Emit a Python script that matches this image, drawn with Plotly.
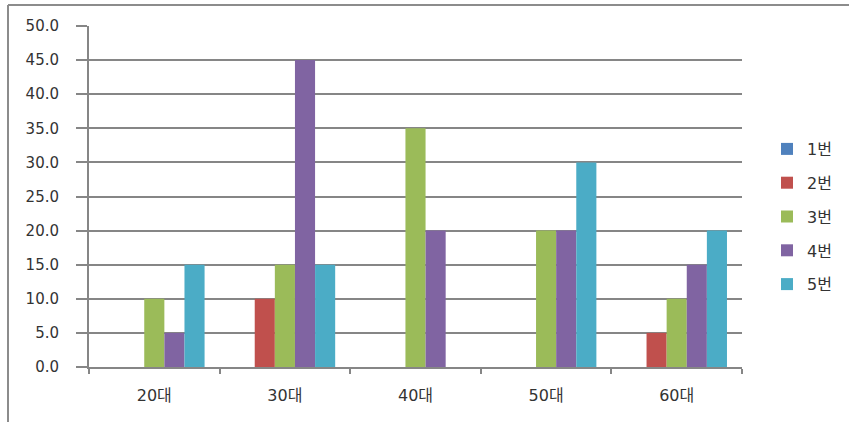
import plotly.graph_objects as go

categories = ["20대", "30대", "40대", "50대", "60대"]
series_names = ["1번", "2번", "3번", "4번", "5번"]
s1 = [0, 0, 0, 0, 0]
s2 = [0, 10, 0, 0, 5]
s3 = [10, 15, 35, 20, 10]
s4 = [5, 45, 20, 20, 15]
s5 = [15, 15, 0, 30, 20]
series_values = [s1, s2, s3, s4, s5]
colors = ["#4F81BD", "#C0504D", "#9BBB59", "#8064A2", "#4BACC6"]
y_ticks = [0, 5, 10, 15, 20, 25, 30, 35, 40, 45, 50]

W, H = 849, 422
L, R, T, B = 89, 107, 26, 55
pw, ph = W - L - R, H - T - B

fig = go.Figure()
for name, vals, col in zip(series_names, series_values, colors):
    fig.add_trace(go.Bar(x=categories, y=vals, name=name, marker_color=col,
                         marker_line_width=0, legendgroup=name))

FAM = "DejaVu Sans, Noto Sans CJK KR"
yfont = dict(family=FAM, size=15, color="#333333")
xfont = dict(family=FAM, size=16, color="#333333")

fig.update_layout(
    width=W, height=H,
    margin=dict(l=L, r=R, t=T, b=B, pad=0, autoexpand=False),
    paper_bgcolor="white", plot_bgcolor="white",
    barmode="group", bargap=0.23, bargroupgap=0,
    font=yfont,
    showlegend=True,
    legend=dict(x=(767 - L) / pw, y=1 - (132 - T) / ph, xanchor="left", yanchor="top",
                font=dict(family=FAM, size=16, color="#333333"),
                tracegroupgap=10, itemwidth=30, bgcolor="rgba(0,0,0,0)"),
    xaxis=dict(type="category", showline=True, linecolor="#868686", linewidth=2,
               ticks="outside", tickson="boundaries", ticklen=5, tickcolor="#868686", tickwidth=2,
               showgrid=False, tickfont=xfont, mirror=False, ticklabelstandoff=13),
    yaxis=dict(range=[0, 50], tickvals=y_ticks, ticktext=[f"{v:.1f}" for v in y_ticks],
               showline=True, linecolor="#868686", linewidth=2,
               ticks="outside", ticklen=11, tickcolor="#868686", tickwidth=2,
               showgrid=True, gridcolor="#868686", gridwidth=1.5,
               tickfont=yfont, zeroline=False, ticklabelstandoff=14),
    shapes=[
        dict(type="line", xref="paper", yref="paper",
             x0=(8 - L) / pw, x1=(8 - L) / pw, y0=1 + (T - 5) / ph, y1=-(B + 5) / ph,
             line=dict(color="#8c8c8c", width=2)),
        dict(type="line", xref="paper", yref="paper",
             x0=(8 - L) / pw, x1=(W + 5 - L) / pw, y0=1 + (T - 5) / ph, y1=1 + (T - 5) / ph,
             line=dict(color="#8c8c8c", width=2)),
    ],
)

fig.write_html("out.html")
